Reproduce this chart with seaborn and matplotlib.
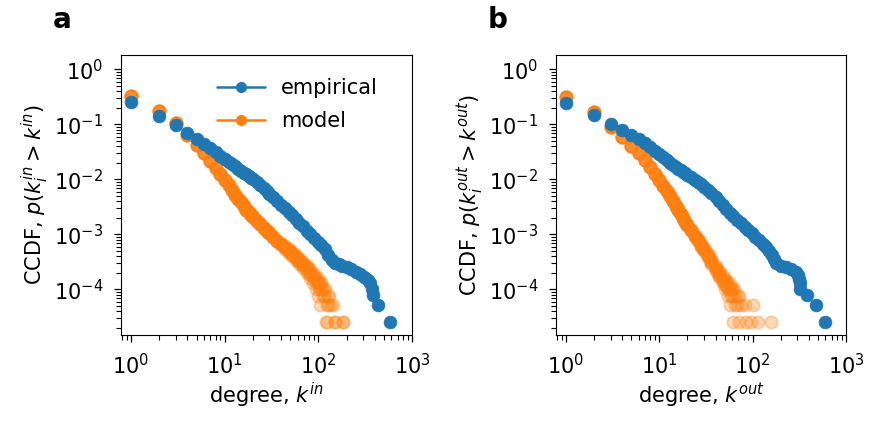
import matplotlib
matplotlib.use("Agg")
import matplotlib.pyplot as plt
import seaborn as sns
from matplotlib.lines import Line2D
from matplotlib.ticker import LogLocator, NullFormatter

# ---- data ----
# panel a: in-degree
emp_in_k = [1, 2, 3, 4, 5, 6, 7, 8, 9, 10, 11, 12, 13, 14, 15, 16, 17, 18, 19, 20,
            22, 24, 26, 28, 30, 33, 36, 40, 44, 48, 52, 57, 62, 68, 75, 82, 90, 98,
            107, 117, 128, 140, 152, 165, 180, 200, 225, 255, 280, 310, 340, 355,
            378, 384, 436, 580]
emp_in_ccdf = [0.251, 0.140, 0.0955, 0.0700, 0.0537, 0.0447, 0.0366, 0.0309, 0.0266,
               0.0231, 0.0207, 0.0188, 0.0172, 0.0157, 0.0144, 0.0133, 0.0123, 0.0115,
               0.0107, 0.0100, 0.00891, 0.00776, 0.00683, 0.00608, 0.00546, 0.00468,
               0.00408, 0.00344, 0.00295, 0.00255, 0.00222, 0.00189, 0.00164, 0.00139,
               0.00117, 0.00100, 0.000853, 0.000735, 0.000631, 0.000537, 0.000417,
               0.000339, 0.000300, 0.000284, 0.000270, 0.000258, 0.000232, 0.000206,
               0.000194, 0.000170, 0.000145, 0.000129, 0.000103, 0.0000774,
               0.0000515, 0.0000258]

model_in_head_k = [1, 2, 3, 4, 5, 6, 7, 8, 9, 10, 11, 12, 13, 14, 15, 16, 17, 18, 19,
                   20, 22, 24, 26, 28, 30, 33, 36, 40]
model_in_head_ccdf = [0.327, 0.177, 0.107, 0.0646, 0.0421, 0.0295, 0.0213, 0.0160,
                      0.0123, 0.00955, 0.00776, 0.00630, 0.00525, 0.00447, 0.00380,
                      0.00324, 0.00282, 0.00251, 0.00226, 0.00204, 0.00176, 0.00151,
                      0.00132, 0.00117, 0.00104, 0.00088, 0.00077, 0.00066]
model_in_tail_k = [
    [44, 48, 52, 57, 62, 68, 75, 82, 90, 98, 105, 115, 128, 150],
    [44, 48, 52, 57, 62, 68, 75, 82, 90, 98, 108, 118, 130, 144, 185],
    [44, 48, 52, 57, 62, 68, 75, 82, 88, 95, 100, 105, 122],
    [44, 48, 52, 57, 62, 68, 75, 82, 90, 100, 110, 125, 152],
    [44, 48, 52, 57, 62, 68, 75, 82, 90, 96, 102, 112, 124],
    [44, 48, 52, 57, 62, 68, 75, 82, 90, 98, 106, 116, 128, 138, 182],
]
model_in_tail_ccdf = [
    [5.75e-4, 5.0e-4, 4.4e-4, 3.8e-4, 3.3e-4, 2.8e-4, 2.4e-4, 2.0e-4, 1.66e-4, 1.38e-4, 1.03e-4, 7.7e-5, 5.15e-5, 2.58e-5],
    [6.1e-4, 5.4e-4, 4.8e-4, 4.2e-4, 3.6e-4, 3.1e-4, 2.7e-4, 2.3e-4, 1.9e-4, 1.6e-4, 1.29e-4, 1.03e-4, 7.7e-5, 5.15e-5, 2.58e-5],
    [5.4e-4, 4.6e-4, 4.0e-4, 3.4e-4, 2.9e-4, 2.4e-4, 2.0e-4, 1.6e-4, 1.29e-4, 1.03e-4, 7.7e-5, 5.15e-5, 2.58e-5],
    [5.9e-4, 5.2e-4, 4.5e-4, 3.9e-4, 3.4e-4, 2.9e-4, 2.5e-4, 2.1e-4, 1.7e-4, 1.29e-4, 1.03e-4, 5.15e-5, 2.58e-5],
    [5.6e-4, 4.8e-4, 4.2e-4, 3.6e-4, 3.1e-4, 2.65e-4, 2.2e-4, 1.8e-4, 1.5e-4, 1.29e-4, 1.03e-4, 7.7e-5, 2.58e-5],
    [6.0e-4, 5.3e-4, 4.6e-4, 4.0e-4, 3.5e-4, 3.0e-4, 2.6e-4, 2.2e-4, 1.8e-4, 1.5e-4, 1.29e-4, 1.03e-4, 7.7e-5, 5.15e-5, 2.58e-5],
]

# panel b: out-degree
emp_out_k = [1, 2, 3, 4, 5, 6, 7, 8, 9, 10, 11, 12, 13, 14, 15, 16, 17, 18, 19, 20,
             22, 24, 26, 28, 30, 33, 36, 40, 44, 48, 52, 57, 62, 68, 75, 82, 90, 98,
             107, 117, 128, 140, 150, 160, 170, 180, 200, 230, 255, 290, 305, 312,
             318, 325, 385, 480, 595]
emp_out_ccdf = [0.245, 0.148, 0.101, 0.0787, 0.0638, 0.0537, 0.0453, 0.0391, 0.0332,
                0.0286, 0.0251, 0.0222, 0.0201, 0.0184, 0.0169, 0.0157, 0.0146, 0.0136,
                0.0128, 0.0121, 0.0109, 0.00986, 0.00902, 0.00818, 0.00738, 0.00640,
                0.00562, 0.00481, 0.00403, 0.00340, 0.00292, 0.00245, 0.00211, 0.00183,
                0.00158, 0.00138, 0.00120, 0.00105, 0.000910, 0.000785, 0.000679,
                0.000589, 0.000500, 0.000420, 0.000350, 0.000300, 0.000270, 0.000250,
                0.000232, 0.000206, 0.000180, 0.000155, 0.000129, 0.000103,
                0.0000774, 0.0000515, 0.0000258]

model_out_head_k = [1, 2, 3, 4, 5, 6, 7, 8, 9, 10, 11, 12, 13, 14, 15, 16, 17, 18,
                    19, 20, 22, 24, 26]
model_out_head_ccdf = [0.318, 0.170, 0.0904, 0.0581, 0.0404, 0.0297, 0.0224, 0.0166,
                       0.0125, 0.00968, 0.00771, 0.00622, 0.00494, 0.00401, 0.00329,
                       0.00274, 0.00231, 0.00196, 0.00171, 0.00150, 0.00118, 0.000946,
                       0.000773]
model_out_tail_k = [
    [28, 30, 33, 36, 40, 44, 48, 52, 56, 60, 68, 85],
    [28, 30, 33, 36, 40, 44, 48, 52, 57, 62, 70, 82, 113],
    [28, 30, 33, 36, 40, 44, 48, 51, 55, 57, 61],
    [28, 30, 33, 36, 40, 44, 48, 53, 58, 64, 75, 96],
    [28, 30, 33, 36, 40, 44, 48, 52, 55, 59, 65, 72],
    [28, 30, 33, 36, 40, 44, 48, 52, 57, 63, 72, 100, 157],
]
model_out_tail_ccdf = [
    [6.3e-4, 5.2e-4, 4.0e-4, 3.1e-4, 2.3e-4, 1.8e-4, 1.42e-4, 1.16e-4, 1.03e-4, 7.7e-5, 5.15e-5, 2.58e-5],
    [6.6e-4, 5.5e-4, 4.3e-4, 3.4e-4, 2.6e-4, 2.05e-4, 1.65e-4, 1.42e-4, 1.16e-4, 1.03e-4, 7.7e-5, 5.15e-5, 2.58e-5],
    [6.0e-4, 5.0e-4, 3.8e-4, 2.9e-4, 2.15e-4, 1.65e-4, 1.29e-4, 1.03e-4, 7.7e-5, 5.15e-5, 2.58e-5],
    [6.5e-4, 5.3e-4, 4.2e-4, 3.3e-4, 2.45e-4, 1.9e-4, 1.55e-4, 1.29e-4, 1.03e-4, 7.7e-5, 5.15e-5, 2.58e-5],
    [6.2e-4, 5.1e-4, 3.9e-4, 3.0e-4, 2.25e-4, 1.75e-4, 1.4e-4, 1.16e-4, 1.03e-4, 7.7e-5, 5.15e-5, 2.58e-5],
    [6.7e-4, 5.6e-4, 4.4e-4, 3.5e-4, 2.7e-4, 2.15e-4, 1.8e-4, 1.5e-4, 1.29e-4, 1.03e-4, 7.7e-5, 5.15e-5, 2.58e-5],
]

BLUE = '#1f77b4'
ORANGE = '#ff7f0e'

sns.set_style("ticks", {"axes.edgecolor": "black", "xtick.color": "black",
                        "ytick.color": "black", "text.color": "black",
                        "axes.labelcolor": "black"})
plt.rcParams['font.family'] = 'DejaVu Sans'
plt.rcParams['font.size'] = 15
plt.rcParams['axes.labelsize'] = 15
plt.rcParams['xtick.labelsize'] = 15
plt.rcParams['ytick.labelsize'] = 15

fig = plt.figure(figsize=(8.7, 4.26), dpi=100)
ax_a = fig.add_axes([0.1391, 0.2136, 0.3345, 0.6573])
ax_b = fig.add_axes([0.6391, 0.2136, 0.3333, 0.6573])

panels = [
    (ax_a, emp_in_k, emp_in_ccdf, model_in_head_k, model_in_head_ccdf,
     model_in_tail_k, model_in_tail_ccdf, 'in'),
    (ax_b, emp_out_k, emp_out_ccdf, model_out_head_k, model_out_head_ccdf,
     model_out_tail_k, model_out_tail_ccdf, 'out'),
]

for ax, ek, ec, hk, hc, tks, tcs, tag in panels:
    # model runs, translucent
    for tk, tc in zip(tks, tcs):
        sns.scatterplot(x=hk + tk, y=hc + tc, ax=ax, color=ORANGE, s=80,
                        alpha=0.3, edgecolor=ORANGE, linewidth=1.2, zorder=2)
    sns.scatterplot(x=ek, y=ec, ax=ax, color=BLUE, s=85, edgecolor=BLUE,
                    linewidth=0.5, zorder=3)
    ax.set_xscale('log')
    ax.set_yscale('log')
    ax.set_xlim(10 ** -0.107, 1000)
    ax.set_ylim(10 ** -4.83, 10 ** 0.26)
    for axis in (ax.xaxis, ax.yaxis):
        axis.set_major_locator(LogLocator(base=10, numticks=20))
        axis.set_minor_locator(LogLocator(base=10, subs=range(2, 10), numticks=100))
        axis.set_minor_formatter(NullFormatter())
    ax.tick_params(which='major', length=5, width=0.9, pad=8)
    ax.tick_params(which='minor', length=3.5, width=0.8)
    ax.set_xlabel('degree, $k^{%s}$' % tag, labelpad=2)
    ax.set_ylabel('CCDF, $p(k_i^{%s} > k^{%s})$' % (tag, tag), labelpad=2)

handles = [
    Line2D([], [], color=BLUE, marker='o', lw=1.8, ms=7),
    Line2D([], [], color=ORANGE, marker='o', lw=1.8, ms=7),
]
ax_a.legend(handles, ['empirical', 'model'], loc='upper left',
            bbox_to_anchor=(0.264, 0.985), frameon=False, fontsize=15,
            handlelength=2.3, labelspacing=0.65)

fig.text(0.061, 0.934, 'a', fontsize=20, fontweight='bold')
fig.text(0.561, 0.934, 'b', fontsize=20, fontweight='bold')

fig.savefig('out.png', dpi=100)
